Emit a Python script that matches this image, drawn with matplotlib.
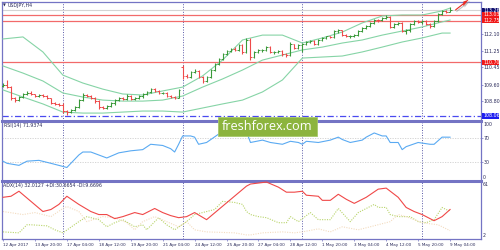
import matplotlib
matplotlib.use("Agg")
import matplotlib.pyplot as plt
import matplotlib.transforms as mtrans
from matplotlib.patches import Rectangle, FancyArrow

# ---------------- data ----------------
x_labels = ["12 Apr 2017", "13 Apr 20:00", "17 Apr 04:00", "18 Apr 12:00", "19 Apr 20:00",
            "21 Apr 04:00", "24 Apr 12:00", "25 Apr 20:00", "27 Apr 04:00", "28 Apr 12:00",
            "1 May 20:00", "3 May 04:00", "4 May 12:00", "5 May 20:00", "9 May 04:00"]
x_label_bars = [0, 8, 16, 24, 32, 40, 48, 56, 64, 72, 80, 88, 96, 104, 112]
week_start_bars = [15, 45, 75, 105]

open_ = [109.55, 109.60, 109.50, 108.94, 108.84, 108.99, 109.14, 109.19, 109.14, 109.04,
         109.09, 109.04, 108.94, 108.70, 108.65, 108.60, 108.30, 108.25, 108.35, 108.50,
         108.84, 109.09, 109.04, 108.94, 108.79, 108.50, 108.45, 108.55, 108.70, 108.84,
         108.94, 108.89, 109.04, 108.89, 108.94, 109.04, 109.14, 109.24, 109.38, 109.29,
         109.19, 109.21, 109.04, 108.99, 108.94, 110.47, 110.03, 109.98, 110.22, 110.27,
         109.98, 109.78, 109.98, 110.32, 110.62, 110.86, 111.11, 111.26, 111.36, 111.31,
         111.55, 111.21, 111.80, 110.96, 111.21, 111.31, 111.33, 111.45, 111.21, 111.23,
         111.26, 111.11, 111.06, 111.60, 111.40, 111.55, 111.60, 111.70, 111.75, 111.60,
         111.80, 111.90, 111.99, 111.95, 112.24, 112.29, 112.04, 111.99, 112.01, 112.04,
         112.24, 112.39, 112.49, 112.64, 112.78, 112.76, 112.88, 112.93, 112.44, 112.59,
         112.64, 112.24, 112.27, 112.59, 112.73, 112.69, 112.73, 112.59, 112.49, 112.73,
         113.08, 113.23, 113.20]
high = [109.66, 109.84, 109.55, 109.00, 109.05, 109.20, 109.28, 109.30, 109.16, 109.15,
        109.14, 109.08, 108.96, 108.75, 108.72, 108.70, 108.35, 108.42, 108.55, 108.90,
        109.20, 109.15, 109.10, 108.98, 108.82, 108.55, 108.60, 108.75, 108.90, 109.00,
        109.00, 109.15, 109.08, 109.00, 109.10, 109.20, 109.30, 109.45, 109.42, 109.32,
        109.25, 109.24, 109.10, 109.05, 109.38, 110.55, 110.10, 110.28, 110.35, 110.30,
        110.02, 110.02, 110.38, 110.66, 110.92, 111.18, 111.32, 111.42, 111.45, 111.62,
        111.60, 111.88, 111.90, 111.25, 111.38, 111.38, 111.50, 111.48, 111.28, 111.30,
        111.30, 111.16, 111.68, 111.62, 111.60, 111.65, 111.75, 111.82, 111.80, 111.85,
        111.95, 112.02, 112.02, 112.30, 112.35, 112.30, 112.10, 112.05, 112.10, 112.28,
        112.45, 112.55, 112.70, 112.85, 112.84, 112.92, 113.03, 112.96, 112.65, 112.70,
        112.68, 112.35, 112.65, 112.80, 112.78, 112.80, 112.78, 112.65, 112.80, 113.12,
        113.28, 113.30, 113.40]
low = [109.48, 109.45, 108.84, 108.76, 108.80, 108.95, 109.08, 109.10, 108.98, 109.00,
       109.00, 108.88, 108.65, 108.58, 108.55, 108.20, 108.13, 108.20, 108.30, 108.45,
       108.80, 109.00, 108.90, 108.72, 108.40, 108.38, 108.40, 108.50, 108.62, 108.80,
       108.85, 108.85, 108.85, 108.82, 108.90, 108.95, 109.08, 109.20, 109.25, 109.14,
       109.12, 109.00, 108.95, 108.90, 108.92, 109.90, 109.92, 109.95, 110.15, 109.92,
       109.70, 109.72, 109.95, 110.28, 110.55, 110.80, 111.05, 111.20, 111.25, 111.28,
       111.10, 111.15, 110.80, 110.92, 111.15, 111.22, 111.25, 111.15, 111.12, 111.15,
       111.02, 110.98, 111.02, 111.35, 111.35, 111.20, 111.55, 111.65, 111.55, 111.55,
       111.75, 111.85, 111.90, 111.90, 112.15, 112.00, 111.95, 111.92, 111.95, 112.00,
       112.20, 112.35, 112.45, 112.60, 112.70, 112.72, 112.82, 112.40, 112.38, 112.52,
       112.18, 112.10, 112.20, 112.55, 112.62, 112.60, 112.52, 112.40, 112.45, 112.70,
       113.05, 113.15, 113.18]
close = [109.60, 109.50, 108.94, 108.84, 108.99, 109.14, 109.19, 109.14, 109.04, 109.09,
         109.04, 108.94, 108.70, 108.65, 108.60, 108.30, 108.25, 108.35, 108.50, 108.84,
         109.09, 109.04, 108.94, 108.79, 108.50, 108.45, 108.55, 108.70, 108.84, 108.94,
         108.89, 109.04, 108.89, 108.94, 109.04, 109.14, 109.24, 109.38, 109.29, 109.19,
         109.21, 109.04, 108.99, 108.94, 109.34, 110.03, 109.98, 110.22, 110.27, 109.98,
         109.78, 109.98, 110.32, 110.62, 110.86, 111.11, 111.26, 111.36, 111.31, 111.55,
         111.21, 111.80, 110.96, 111.21, 111.31, 111.33, 111.45, 111.21, 111.23, 111.26,
         111.11, 111.06, 111.60, 111.40, 111.55, 111.60, 111.70, 111.75, 111.60, 111.80,
         111.90, 111.99, 111.95, 112.24, 112.29, 112.04, 111.99, 112.01, 112.04, 112.24,
         112.39, 112.49, 112.64, 112.78, 112.76, 112.88, 112.93, 112.44, 112.59, 112.64,
         112.24, 112.27, 112.59, 112.73, 112.69, 112.73, 112.59, 112.49, 112.73, 113.08,
         113.23, 113.20, 113.26]

band_bars = [0, 5, 10, 15, 20, 25, 30, 35, 40, 45, 50, 55, 60, 65, 70, 75, 80, 85, 90, 95,
             100, 105, 110, 112]
bb_upper = [111.85, 111.95, 111.21, 110.07, 109.68, 109.38, 109.14, 109.09, 109.29, 109.48,
            110.03, 110.81, 111.80, 112.04, 112.04, 111.65, 111.90, 112.19, 112.64, 112.98,
            113.03, 113.03, 113.23, 113.37]
bb_middle = [110.52, 110.17, 109.78, 109.19, 108.99, 108.84, 108.79, 108.79, 108.84, 109.04,
             109.48, 109.88, 110.32, 110.81, 111.06, 111.31, 111.45, 111.65, 111.80, 112.04,
             112.24, 112.44, 112.69, 112.78]
bb_lower = [109.34, 108.99, 108.65, 108.25, 108.20, 108.20, 108.25, 108.30, 108.30, 108.25,
            108.45, 108.65, 108.84, 109.24, 109.83, 110.91, 110.96, 111.01, 111.21, 111.45,
            111.70, 111.90, 112.14, 112.14]

red_levels = [113.03, 112.75, 110.70]
bid_level = 113.26
blue_level = 108.06
price_ticks = [112.10, 111.25, 110.45, 109.60, 108.80]

rsi_bars = [0, 1, 4, 6, 9, 12, 15, 16, 19, 20, 22, 24, 26, 29, 32, 35, 37, 40, 42, 43,
            44, 45, 47, 48, 49, 51, 54, 56, 58, 60, 61, 62, 65, 67, 70, 72, 74, 75, 76, 79,
            82, 84, 85, 87, 90, 91, 93, 95, 96, 97, 99, 100, 101, 104, 107, 108, 110, 112]
rsi_vals = [31.6, 28, 24.6, 31.6, 33, 28, 22.8, 21, 42, 47, 47, 42, 37, 45.6, 49, 51, 60, 58, 52.6, 47,
            60, 74, 74, 72, 60, 63, 77, 84, 82, 86, 81, 63, 67, 63, 60, 65, 63, 60, 65, 63,
            67, 72, 68, 63, 67, 72, 79, 74, 74, 63, 63, 51, 56, 63, 60, 60, 72, 71.9]

adx_bars = [0, 2, 4, 7, 10, 12, 14, 16, 19, 22, 24, 26, 28, 30, 33, 35, 38, 40, 42, 44,
            46, 48, 51, 56, 61, 62, 66, 69, 71, 73, 75, 76, 79, 80, 82, 84, 86, 88, 91, 94,
            96, 99, 101, 103, 105, 108, 110, 112]
adx_vals = [44.9, 46, 51.3, 40.6, 29.9, 32, 37.4, 46, 37.4, 29.9, 26.7, 26.7, 22.4, 24.5, 28.8, 26.7,
            33.1, 28.8, 25.6, 23.4, 24.5, 28.8, 21.3, 39, 56.7, 58.9, 61, 55.6, 50.3, 50.3,
            51.3, 47.1, 46, 41.7, 41.7, 48.1, 42.8, 38.5, 44.9, 53.5, 54.6, 44.9, 34.2, 29.9,
            26.7, 20.2, 24.5, 32.0]
pdi_bars = [0, 4, 6, 7, 11, 13, 15, 19, 21, 24, 26, 28, 30, 33, 35, 36, 39, 41, 43, 46,
            48, 50, 53, 55, 58, 60, 61, 62, 64, 66, 69, 71, 72, 74, 77, 79, 82, 84, 87, 89,
            93, 94, 96, 97, 99, 102, 104, 106, 108, 110, 111, 112]
pdi_vals = [8.4, 7.4, 15.9, 15.9, 14.8, 10.6, 7.4, 19.2, 24.5, 21.3, 13.8, 18.1, 21.3, 13.8, 15.9, 10.6,
            23.4, 15.9, 10.6, 19.2, 26.7, 28.8, 32.0, 40.6, 39.5, 37.4, 29.9, 26.7, 24.5, 23.4,
            18.1, 18.1, 24.5, 19.2, 28.8, 21.3, 21.3, 33.1, 19.2, 28.8, 37.4, 34.2, 34.2, 26.7,
            24.5, 24.5, 19.2, 18.1, 21.3, 34.2, 32.0, 30.7]
mdi_bars = [0, 5, 8, 12, 15, 16, 19, 21, 25, 28, 31, 33, 35, 38, 41, 44, 46, 48, 51, 58,
            61, 62, 65, 70, 73, 75, 79, 82, 85, 89, 92, 97, 99, 101, 105, 109, 112]
mdi_vals = [29.9, 26.7, 28.8, 24.5, 33.1, 35.2, 29.9, 19.2, 24.5, 23.4, 18.1, 10.6, 19.2, 24.5, 19.2,
            13.8, 19.2, 10.6, 8.4, 7.4, 5.2, 5.2, 7.4, 8.4, 7.4, 8.4, 11.6, 8.4, 13.8, 10.6, 13.8,
            19.2, 26.7, 24.5, 18.1, 15.9, 9.7]

# ---------------- style ----------------
W, H = 500, 250
FRAME = "#7474c4"
TXT = "#2a2a5a"
UP = "#3a9a3a"
DOWN = "#ee4a4a"
BAND = "#86d4a6"
FS = 3.4
FSX = 3.0

fig = plt.figure(figsize=(W / 100, H / 100), dpi=100)
fig.patch.set_facecolor("white")


def px_axes(x0, y0, x1, y1):
    return fig.add_axes([x0 / W, 1 - y1 / H, (x1 - x0) / W, (y1 - y0) / H])


def ptext(x, y, s, **kw):
    kw.setdefault("fontsize", FS)
    kw.setdefault("color", TXT)
    kw.setdefault("va", "center")
    kw.setdefault("ha", "left")
    return fig.text(x / W, 1 - y / H, s, **kw)


ax1 = px_axes(2, 2, 481, 121)
ax2 = px_axes(2, 121, 481, 181)
ax3 = px_axes(2, 181, 481, 239)

XL = (-0.25, 119.75)
for ax in (ax1, ax2, ax3):
    ax.set_xlim(*XL)
    ax.set_facecolor("white")
    for s in ax.spines.values():
        s.set_color(FRAME)
        s.set_linewidth(0.9)
    ax.tick_params(axis="x", length=0, labelbottom=False)
    ax.yaxis.tick_right()
    ax.tick_params(axis="y", direction="out", length=1.5, width=0.5, color=FRAME,
                   labelsize=FS, labelcolor=TXT, pad=0.6)
    for b in week_start_bars:
        ax.axvline(b, color="#5a5aa8", lw=0.7, ls=(0, (1, 1.6)), zorder=1)

ax1.spines["bottom"].set_visible(False)
ax2.spines["top"].set_linewidth(2.2)
ax2.spines["bottom"].set_visible(False)
ax3.spines["top"].set_linewidth(2.2)

# ---------------- main price panel ----------------
ax1.set_ylim(107.81, 113.67)
ax1.set_yticks(price_ticks)
ax1.set_yticklabels([f"{v:.2f}" for v in price_ticks])

for lv in red_levels:
    ax1.axhline(lv, color="#f26a6a", lw=0.9, zorder=2)
ax1.axhline(bid_level, color="#d4d4d4", lw=0.8, zorder=2)
ax1.axhline(blue_level, color="#4a4af0", lw=0.9, ls=(0, (5, 2, 1, 2)), zorder=2)

ax1.plot(band_bars, bb_upper, color=BAND, lw=0.8, zorder=3)
ax1.plot(band_bars, bb_middle, color=BAND, lw=0.8, zorder=3)
ax1.plot(band_bars, bb_lower, color=BAND, lw=0.8, zorder=3)

for i, (o, h, l, c) in enumerate(zip(open_, high, low, close)):
    col = UP if c >= o else DOWN
    ax1.vlines(i, min(l, o, c), max(h, o, c), color=col, lw=0.8, zorder=4)
    ax1.hlines(o, i - 0.45, i, color=col, lw=0.7, zorder=4)
    ax1.hlines(c, i, i + 0.45, color=col, lw=0.7, zorder=4)

# forecast arrow
ax1.add_patch(FancyArrow(113.6, 113.20, 3.4, 0.52, width=0.07, head_width=0.22,
                         head_length=1.4, length_includes_head=True, color="#9a9a9a",
                         alpha=0.6, clip_on=False, zorder=5, lw=0))
ax1.add_patch(FancyArrow(113.3, 113.27, 3.4, 0.52, width=0.07, head_width=0.22,
                         head_length=1.4, length_includes_head=True, color="#e82a22",
                         clip_on=False, zorder=6, lw=0))

# highlighted price labels
tr1 = mtrans.blended_transform_factory(fig.transFigure, ax1.transData)
boxes = [(bid_level, "#101070"), (red_levels[0], "#f01818"), (red_levels[1], "#f01818"),
         (red_levels[2], "#f01818"), (blue_level, "#1c1cf0")]
for lv, bg in boxes:
    ax1.add_patch(Rectangle((481.5 / W, lv - 0.135), 17.5 / W, 0.27, transform=tr1,
                            facecolor=bg, edgecolor="none", clip_on=False, zorder=10))
    ax1.text(483 / W, lv, f"{lv:.2f}", transform=tr1, fontsize=FS, color="white",
             va="center", ha="left", zorder=11, clip_on=False)

# ---------------- RSI panel ----------------
ax2.set_ylim(-1.7, 99.1)
ax2.set_yticks([70, 30])
ax2.set_yticklabels(["70", "30"])
for lv in (70, 30):
    ax2.axhline(lv, color="#cfcfcf", lw=0.6, ls=(0, (1.5, 1.5)), zorder=1)
ax2.plot(rsi_bars, rsi_vals, color="#5aaaf2", lw=0.8, zorder=3)
ptext(483, 124, "100")
ptext(483, 177.5, "0")

# ---------------- ADX panel ----------------
ax3.set_ylim(0.9, 62.1)
ax3.set_yticks([])
ax3.plot(adx_bars, adx_vals, color="#f04848", lw=0.8, zorder=3)
ax3.plot(pdi_bars, pdi_vals, color="#b8d46a", lw=0.8, ls=(0, (1, 1.2)), zorder=2)
ax3.plot(mdi_bars, mdi_vals, color="#f3dcc0", lw=0.8, ls=(0, (1, 1.2)), zorder=2)
ptext(483, 184.5, "61")
ptext(483, 235.5, "2")

ax3.set_xticks(x_label_bars)
ax3.tick_params(axis="x", direction="out", length=1.5, width=0.5, color=FRAME,
                labelbottom=True, labelsize=FSX, labelcolor=TXT, pad=1.5)
ax3.set_xticklabels(x_labels, ha="left")

# ---------------- panel captions ----------------
ptext(3, 5.5, "\u25bc", fontsize=2.6)
ptext(7.5, 5.5, "USDJPY,H4")
ptext(4, 125.5, "RSI(14) 71.9374")
ptext(3, 185.5, "ADX(14) 32.0127 +DI:30.6654 -DI:9.6696")

# ---------------- watermark ----------------
fig.add_artist(Rectangle((218 / W, 1 - 135.5 / H), 99 / W, 18.5 / H,
                         transform=fig.transFigure, facecolor="#8cb43e",
                         edgecolor="#a6c86a", lw=0.6, zorder=20))
ptext(267.5, 126.5, "freshforex.com", fontsize=9.2, color="white", ha="center",
      family=["Open Sans", "DejaVu Sans"], zorder=21)

fig.savefig("out.png", dpi=100)
